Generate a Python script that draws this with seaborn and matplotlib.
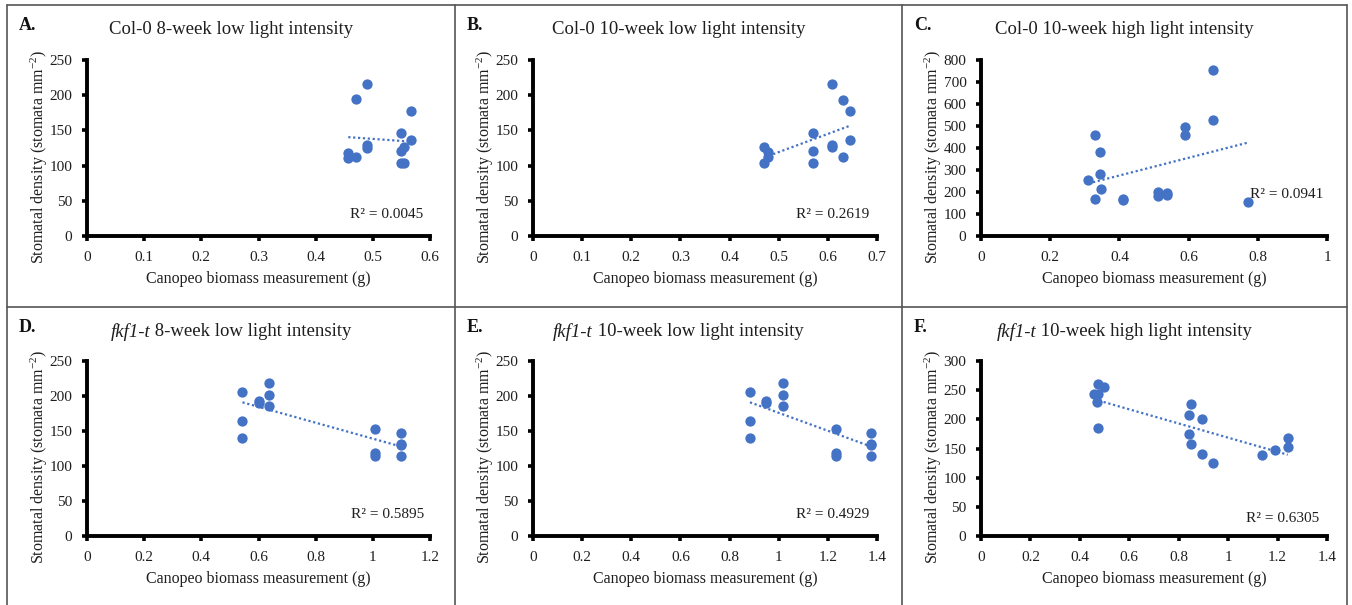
"""Stomatal density vs Canopeo biomass, six panels."""
import matplotlib
matplotlib.use("Agg")
import matplotlib.pyplot as plt
from matplotlib.lines import Line2D
from matplotlib.ticker import FuncFormatter, MultipleLocator
import pandas as pd
import seaborn as sns

# panel A: Col-0 8-week low light
a_x = [0.489, 0.470, 0.567, 0.549, 0.567, 0.489, 0.489, 0.457, 0.457, 0.470, 0.549, 0.555, 0.549, 0.555]
a_y = [216, 194, 178, 147, 136, 129, 125, 118, 111, 112, 121, 126, 103, 103]
# panel B: Col-0 10-week low light
b_x = [0.470, 0.479, 0.479, 0.470, 0.570, 0.570, 0.570, 0.608, 0.608, 0.608, 0.631, 0.631, 0.645, 0.645]
b_y = [127, 120, 112, 103, 147, 121, 103, 216, 129, 126, 193, 112, 178, 136]
# panel C: Col-0 10-week high light
c_x = [0.670, 0.670, 0.590, 0.590, 0.329, 0.345, 0.345, 0.310, 0.346, 0.329, 0.411, 0.411,
       0.511, 0.511, 0.537, 0.537, 0.771]
c_y = [754, 528, 495, 458, 458, 384, 281, 253, 212, 170, 170, 162, 202, 180, 194, 186, 156]
# panel D: fkf1-t 8-week low light
d_x = [0.544, 0.544, 0.544, 0.603, 0.603, 0.636, 0.636, 0.636, 1.008, 1.008, 1.008, 1.100, 1.100, 1.100, 1.100]
d_y = [206, 165, 140, 193, 190, 218, 202, 186, 153, 118, 114, 147, 132, 130, 114]
# panel E: fkf1-t 10-week low light
e_x = [0.883, 0.883, 0.883, 0.949, 0.949, 1.019, 1.019, 1.019, 1.233, 1.233, 1.233, 1.376, 1.376, 1.376, 1.376]
e_y = [206, 165, 140, 193, 190, 218, 202, 186, 153, 118, 114, 147, 132, 130, 114]
# panel F: fkf1-t 10-week high light
f_x = [0.472, 0.498, 0.458, 0.472, 0.469, 0.472, 0.848, 0.840, 0.893, 0.840, 0.848, 0.893, 0.940,
       1.139, 1.189, 1.241, 1.241]
f_y = [261, 256, 243, 243, 230, 185, 227, 207, 200, 175, 158, 141, 126, 139, 148, 168, 153]

letters = ["A.", "B.", "C.", "D.", "E.", "F."]
# (italic genotype part, upright remainder)
titles = [
    ("", "Col-0 8-week low light intensity"),
    ("", "Col-0 10-week low light intensity"),
    ("", "Col-0 10-week high light intensity"),
    ("fkf1-t", " 8-week low light intensity"),
    ("fkf1-t", " 10-week low light intensity"),
    ("fkf1-t", " 10-week high light intensity"),
]
r2_labels = ["R² = 0.0045", "R² = 0.2619", "R² = 0.0941", "R² = 0.5895", "R² = 0.4929", "R² = 0.6305"]
x_max = [0.6, 0.7, 1.0, 1.2, 1.4, 1.4]
x_step = [0.1, 0.1, 0.2, 0.2, 0.2, 0.2]
y_max = [250, 250, 800, 250, 250, 300]
y_step = [50, 50, 100, 50, 50, 50]
# R² label anchor (data coords, right aligned)
r2_pos = [(0.588, 30), (0.685, 30), (0.99, 188), (1.18, 30), (1.37, 30), (1.37, 30)]

sns.set_theme(style="ticks")
plt.rcParams["font.family"] = ["Liberation Serif", "DejaVu Serif"]
plt.rcParams["mathtext.fontset"] = "custom"
plt.rcParams["mathtext.rm"] = "Liberation Serif"
plt.rcParams["mathtext.it"] = "Liberation Serif:italic"

BLUE = "#4472C4"
INK = "#1e1e1e"
W, H = 1352, 605
fig = plt.figure(figsize=(W / 100, H / 100), dpi=100)
renderer = fig.canvas.get_renderer()

# axes boxes in pixels: left, right, top, bottom
col_px = [(87, 430), (533, 877), (981, 1327)]
row_px = [(60, 236), (361, 536)]
panel_px = [(7, 455), (455, 902), (902, 1347)]
row_top = [5, 307]

series = [(a_x, a_y), (b_x, b_y), (c_x, c_y), (d_x, d_y), (e_x, e_y), (f_x, f_y)]


def _title(xc, y, italic, rest):
    """Centre a title whose first part is italic."""
    kw = dict(fontsize=13.5, va="center", color=INK)
    t1 = fig.text(0, y, italic, style="italic", ha="left", **kw)
    t2 = fig.text(0, y, rest, ha="left", **kw)
    w1 = t1.get_window_extent(renderer).width / W if italic else 0
    w2 = t2.get_window_extent(renderer).width / W
    x0 = xc - (w1 + w2) / 2
    t1.set_x(x0)
    t2.set_x(x0 + w1)


for i, (xs, ys) in enumerate(series):
    r, c = divmod(i, 3)
    l, rr = col_px[c]
    t, b = row_px[r]
    ax = fig.add_axes([l / W, 1 - b / H, (rr - l) / W, (b - t) / H])
    df = pd.DataFrame({"x": xs, "y": ys})
    sns.regplot(data=df, x="x", y="y", ax=ax, ci=None,
                scatter_kws=dict(s=55, color=BLUE, alpha=1, linewidths=0, zorder=3),
                line_kws=dict(color=BLUE, linestyle=(0, (1, 1.2)), linewidth=1.6))
    ax.set_xlim(0, x_max[i])
    ax.set_ylim(0, y_max[i])
    ax.xaxis.set_major_locator(MultipleLocator(x_step[i]))
    ax.yaxis.set_major_locator(MultipleLocator(y_step[i]))
    ax.xaxis.set_major_formatter(FuncFormatter(lambda v, p: f"{round(v, 2):g}"))
    ax.yaxis.set_major_formatter(FuncFormatter(lambda v, p: f"{v:.0f}"))
    sns.despine(ax=ax)
    for side in ("left", "bottom"):
        ax.spines[side].set_linewidth(2.8)
        ax.spines[side].set_color("black")
        ax.spines[side].set_capstyle("projecting")
    ax.tick_params(axis="both", direction="out", length=3.5, width=2.6, color="black",
                   labelsize=11, labelcolor=INK)
    ax.tick_params(axis="y", pad=7)
    ax.tick_params(axis="x", pad=7)
    ax.set_xlabel("Canopeo biomass measurement (g)", fontsize=11.5, color=INK)
    ax.set_ylabel("Stomatal density (stomata mm$^{-2}$)", fontsize=11.5, color=INK)
    ax.xaxis.set_label_coords(0.5, -0.2)
    ax.yaxis.set_label_coords(-0.108, 0.45)
    ax.set_facecolor("none")
    ax.text(*r2_pos[i], r2_labels[i], ha="right", va="center", fontsize=11, color=INK)

    # panel letter and title
    pl, pr = panel_px[c]
    fig.text((pl + 12) / W, 1 - (row_top[r] + 20) / H, letters[i], fontsize=13,
             fontweight="bold", ha="left", va="center", color="#111111")
    _title((pl + pr) / 2 / W, 1 - (row_top[r] + 25) / H, *titles[i])

# panel frames
frame = dict(color="#555555", linewidth=1.2, transform=fig.transFigure)
for x in (7, 455, 902, 1347):
    fig.add_artist(Line2D([x / W, x / W], [0, 1 - 5 / H], **frame))
for y in (5, 307):
    fig.add_artist(Line2D([7 / W, 1347 / W], [1 - y / H, 1 - y / H], **frame))

fig.savefig("out.png", dpi=100)
